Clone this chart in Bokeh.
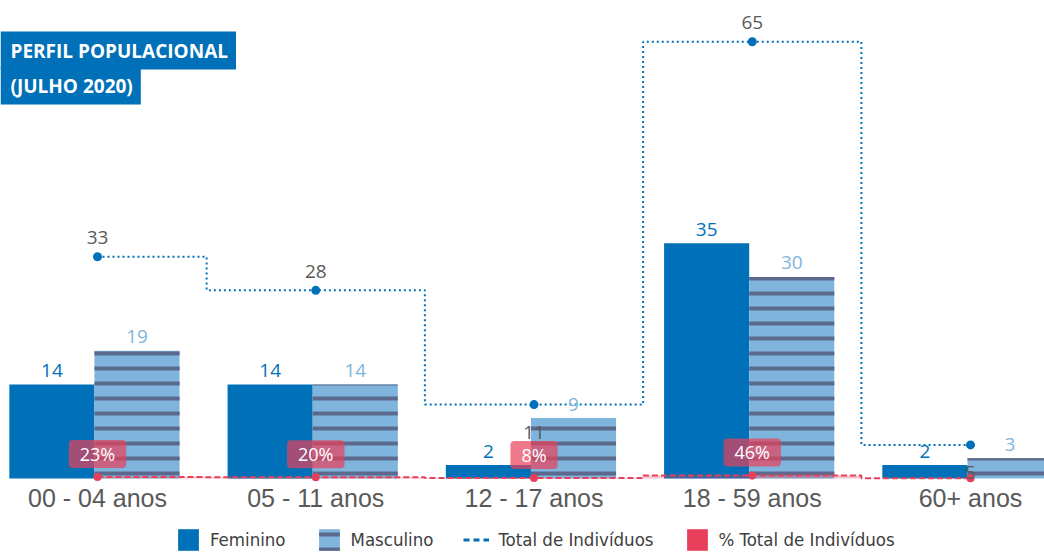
import numpy as np
from bokeh.plotting import figure
from bokeh.models import (ColumnDataSource, Range1d, Legend, LegendItem, Label)
from bokeh.core.properties import value
from bokeh.embed import file_html
from bokeh.resources import INLINE

# ---------------- data ----------------
categories = ["00 - 04 anos", "05 - 11 anos", "12 - 17 anos", "18 - 59 anos", "60+ anos"]
feminino = [14, 14, 2, 35, 2]
masculino = [19, 14, 9, 30, 3]
total = [33, 28, 11, 65, 5]
pct_total = [0.23, 0.20, 0.08, 0.46, 0.035]
pct_labels = ["23%", "20%", "8%", "46%", ""]

# ---------------- style ----------------
FEM = "#0070b8"
MASC = "#7fb5dc"
STRIPE = "#5b6a8c"
RED = "#e8405a"
GRAY = "#595959"
VAL_FONT = "Open Sans"
LEG_FONT = "'DejaVu Sans Condensed', sans-serif"

total_label_dy = [-19, -19, 28, -19, 28]
BAR_W = 0.39
JOIN = -0.014

W, H = 1044, 553
PXX = 218.25
X_START = -97 / PXX
X_END = X_START + W / PXX
PXU = 6.72
Y_END = 478 / PXU
Y_START = Y_END - H / PXU

idx = np.arange(len(categories))

src = ColumnDataSource(dict(
    x=idx,
    fx=idx + JOIN - BAR_W / 2,
    mx=idx + JOIN + BAR_W / 2,
    fem=feminino,
    masc=masculino,
    total=total,
    pct=pct_total,
    zero=[0] * len(categories),
    cat=categories,
    fem_lbl=[str(v) for v in feminino],
    masc_lbl=[str(v) for v in masculino],
    tot_lbl=[str(v) for v in total],
    tdy=total_label_dy,
))

shown = [i for i, s in enumerate(pct_labels) if s]
pct_src = ColumnDataSource(dict(
    x=[idx[i] for i in shown],
    y=[pct_total[i] for i in shown],
    t=[pct_labels[i] for i in shown],
))

p = figure(frame_width=W, frame_height=H,
           x_range=Range1d(X_START, X_END), y_range=Range1d(Y_START, Y_END),
           output_backend="svg", toolbar_location=None, min_border=0,
           x_axis_location=None, y_axis_location=None,
           outline_line_color=None, background_fill_color="white")
p.grid.visible = False

# bars
fem_r = p.vbar(x="fx", top="fem", width=BAR_W, source=src,
               fill_color=FEM, line_color=None)
masc_r = p.vbar(x="mx", top="masc", width=BAR_W, source=src,
                fill_color=MASC, line_color=None,
                hatch_pattern="-", hatch_color=STRIPE, hatch_scale=15, hatch_weight=4)

# % total series
p.varea_step(x="x", y1=0, y2="pct", step_mode="center", source=src,
             fill_color=RED, fill_alpha=0.3)
p.step(x="x", y="pct", mode="center", source=src, line_color=RED,
       line_width=2, line_dash="6 3")
p.scatter(x="x", y="pct", source=src, size=8, fill_color=RED, line_color=None)

# total series
p.step(x="x", y="total", mode="center", source=src, line_color=FEM,
       line_width=2, line_dash="2 3")
p.scatter(x="x", y="total", source=src, size=9, fill_color=FEM, line_color=None)

# value labels
p.text(x="fx", y="fem", text="fem_lbl", source=src, y_offset=-14,
       text_align="center", text_baseline="middle",
       text_font=value(VAL_FONT), text_font_size="19px", text_color=FEM)
p.text(x="mx", y="masc", text="masc_lbl", source=src, y_offset=-14,
       text_align="center", text_baseline="middle",
       text_font=value(VAL_FONT), text_font_size="19px", text_color=MASC)
p.text(x="x", y="total", text="tot_lbl", source=src, y_offset="tdy",
       text_align="center", text_baseline="middle",
       text_font=value(VAL_FONT), text_font_size="19px", text_color=GRAY)
p.text(x="x", y="y", text="t", source=pct_src, y_offset=-23,
       text_align="center", text_baseline="middle",
       text_font=value(VAL_FONT), text_font_size="18px", text_color="white",
       background_fill_color=RED, background_fill_alpha=0.7,
       border_radius=4, padding=dict(left=11, right=11, top=2, bottom=2))

# category labels (x axis), placed under the baseline
p.text(x="x", y="zero", text="cat", source=src, y_offset=19,
       text_align="center", text_baseline="middle",
       text_font=value("Liberation Sans"), text_font_size="25px", text_color=GRAY)

# title boxes
for txt, cy in [("PERFIL POPULACIONAL", 50), ("(JULHO 2020)", 85)]:
    p.add_layout(Label(x=0, y=Y_END - cy / PXU, x_units="screen", y_units="data",
                       text=txt, text_color="white", text_font="Open Sans",
                       text_font_style="bold", text_font_size="19px",
                       text_baseline="middle", text_align="left",
                       background_fill_color=FEM,
                       padding=dict(left=10, right=8, top=6, bottom=6)))

# legend-only glyphs (zero-size marks, only their legend swatches are visible)
dash_r = p.segment(x0="x", y0="zero", x1="x", y1="zero", source=src,
                   line_color=FEM, line_width=3, line_dash="6 4", line_cap="butt")
red_r = p.vbar(x="x", top="pct", width=0, source=src,
               fill_color=RED, line_color=None)

legend = Legend(items=[
    LegendItem(label="Feminino", renderers=[fem_r]),
    LegendItem(label="Masculino", renderers=[masc_r]),
    LegendItem(label="Total de Indivíduos", renderers=[dash_r]),
    LegendItem(label="% Total de Indivíduos", renderers=[red_r]),
], orientation="horizontal", location=(175, 0),
    glyph_width=26, glyph_height=27, label_standoff=9, spacing=30,
    label_text_font=LEG_FONT, label_text_font_size="18.5px",
    label_text_color="#404040", padding=0, margin=0,
    border_line_color=None, background_fill_alpha=0)
p.add_layout(legend, "center")

open("out.html", "w").write(file_html(p, INLINE))
